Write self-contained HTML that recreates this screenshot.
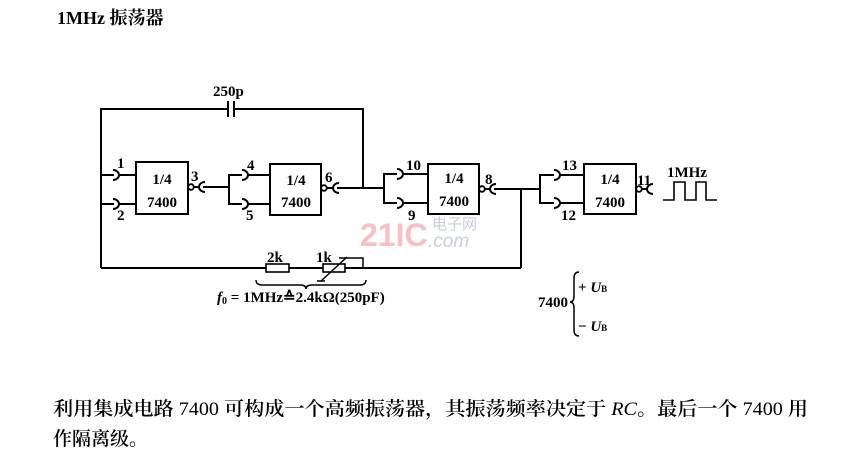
<!DOCTYPE html>
<html><head><meta charset="utf-8"><style>
html,body{margin:0;padding:0;background:#fff;}
svg{display:block;}
text{font-family:"Liberation Serif","Noto Serif CJK SC",serif;fill:#000;}
.cjk{font-family:"Liberation Serif","Noto Serif CJK SC",serif;}
.n{font-weight:normal;}
</style></head><body>
<svg width="848" height="461" viewBox="0 0 848 461" xmlns="http://www.w3.org/2000/svg">
<!-- watermark -->
<text x="360" y="246" style="font-family:'Liberation Sans',sans-serif;font-weight:bold;font-size:32px;fill:#f6c0c5">21IC</text>
<text x="432" y="229" style="font-family:'Noto Sans CJK SC',sans-serif;font-size:15px;fill:#c8cce8">电子网</text>
<text x="428" y="247" style="font-family:'Liberation Sans',sans-serif;font-style:italic;font-size:19px;fill:#c8cce8">.com</text>
<g fill="none" stroke="#000" stroke-width="2">
<polyline points="101,268 101,109 228,109"/>
<polyline points="234,109 363,109 363,188"/>
<line x1="228" y1="101" x2="228" y2="117"/>
<line x1="234" y1="101" x2="234" y2="117"/>
<line x1="101" y1="268" x2="266" y2="268"/>
<line x1="289" y1="268" x2="323" y2="268"/>
<line x1="345" y1="268" x2="521" y2="268"/>
<rect x="266" y="264" width="23" height="8" stroke-width="1.6"/>
<rect x="323" y="264" width="22" height="8" stroke-width="1.6"/>
<polyline points="339,258 363,258 363,268" stroke-width="1.5"/>
<line x1="321" y1="281" x2="347" y2="257" stroke-width="1.5"/>
<line x1="317" y1="281" x2="325" y2="281" stroke-width="1.5"/>
<path d="M256,280 q0,5 6,5 h38 q6,0 6,4 q0,-4 6,-4 h48 q6,0 6,-5" stroke-width="1.4"/>
<rect x="136" y="162" width="52" height="52"/>
<rect x="270" y="164" width="51" height="51"/>
<rect x="428" y="164" width="51" height="50"/>
<rect x="584" y="164" width="52" height="50"/>
<line x1="101" y1="175" x2="114" y2="175"/><path d="M113,170 a6,5 0 0 1 0,10"/><line x1="119" y1="175" x2="136" y2="175"/>
<line x1="101" y1="204" x2="114" y2="204"/><path d="M113,199 a6,5 0 0 1 0,10"/><line x1="119" y1="204" x2="136" y2="204"/>
<circle cx="191" cy="187" r="2.8" stroke-width="1.8"/>
<line x1="194" y1="187" x2="200" y2="187"/><path d="M205,182 a6,5 0 0 0 0,10"/>
<line x1="203" y1="187" x2="229" y2="187"/>
<polyline points="242,175 229,175 229,204 242,204"/>
<path d="M242,170 a6,5 0 0 1 0,10"/><line x1="248" y1="175" x2="270" y2="175"/>
<path d="M242,199 a6,5 0 0 1 0,10"/><line x1="248" y1="204" x2="270" y2="204"/>
<circle cx="324" cy="188" r="2.8" stroke-width="1.8"/>
<line x1="327" y1="188" x2="334" y2="188"/><path d="M339,183 a6,5 0 0 0 0,10"/>
<line x1="337" y1="188" x2="384" y2="188"/>
<polyline points="397,174 384,174 384,203 397,203"/>
<path d="M397,169 a6,5 0 0 1 0,10"/><line x1="403" y1="174" x2="428" y2="174"/>
<path d="M397,198 a6,5 0 0 1 0,10"/><line x1="403" y1="203" x2="428" y2="203"/>
<circle cx="482" cy="189" r="2.8" stroke-width="1.8"/>
<line x1="485" y1="189" x2="491" y2="189"/><path d="M496,184 a6,5 0 0 0 0,10"/>
<line x1="494" y1="189" x2="540" y2="189"/>
<line x1="521" y1="189" x2="521" y2="268"/>
<polyline points="554,175 540,175 540,203 554,203"/>
<path d="M554,170 a6,5 0 0 1 0,10"/><line x1="560" y1="175" x2="584" y2="175"/>
<path d="M554,198 a6,5 0 0 1 0,10"/><line x1="560" y1="203" x2="584" y2="203"/>
<circle cx="639" cy="189" r="2.8" stroke-width="1.8"/>
<line x1="642" y1="189" x2="648" y2="189"/><path d="M653,184 a6,5 0 0 0 0,10"/>
<polyline points="663,200 674,200 674,182 685,182 685,200 696,200 696,182 706,182 706,200 717,200" stroke-width="1.6"/>
<path d="M579,272 q-5,0 -5,6 v18 q0,6 -4,6 q4,0 4,6 v22 q0,6 5,6" stroke-width="1.5"/>
</g>
<text x="57" y="24" class="cjk" style="font-size:18px;font-weight:bold">1MHz 振荡器</text>
<g style="font-size:15px;font-weight:bold" text-anchor="middle">
<text x="162" y="184">1/4</text><text x="162" y="207">7400</text>
<text x="296" y="185">1/4</text><text x="296" y="207">7400</text>
<text x="454" y="183">1/4</text><text x="454" y="206">7400</text>
<text x="610" y="184">1/4</text><text x="610" y="207">7400</text>
</g>
<g style="font-size:15px;font-weight:bold">
<text x="117" y="168">1</text><text x="117" y="220">2</text><text x="191" y="181">3</text>
<text x="247" y="170">4</text><text x="246" y="220">5</text><text x="325" y="182">6</text>
<text x="406" y="170">10</text><text x="408" y="220">9</text><text x="485" y="184">8</text>
<text x="562" y="170">13</text><text x="561" y="220">12</text><text x="637" y="185">11</text>
<text x="667" y="177" style="font-size:15px">1MHz</text>
<text x="213" y="96">250p</text>
<text x="267" y="262">2k</text><text x="316" y="262">1k</text>
<text x="217" y="302"><tspan font-style="italic">f</tspan><tspan font-size="10" dy="2">0</tspan><tspan dy="-2"> = 1MHz≙2.4kΩ(250pF)</tspan></text>
<text x="538" y="307">7400</text>
<text x="578" y="292">+ <tspan font-style="italic">U</tspan><tspan font-size="9">B</tspan></text>
<text x="578" y="331">− <tspan font-style="italic">U</tspan><tspan font-size="9">B</tspan></text>
</g>
<text x="53" y="415" class="cjk" style="font-size:19px;font-weight:600" textLength="755" lengthAdjust="spacingAndGlyphs">利用集成电路<tspan class="n"> 7400 </tspan>可构成一个高频振荡器，其振荡频率决定于 <tspan font-style="italic" class="n">RC</tspan>。最后一个<tspan class="n"> 7400 </tspan>用</text>
<text x="53" y="445" class="cjk" style="font-size:19px;font-weight:600">作隔离级。</text>
</svg>
</body></html>
